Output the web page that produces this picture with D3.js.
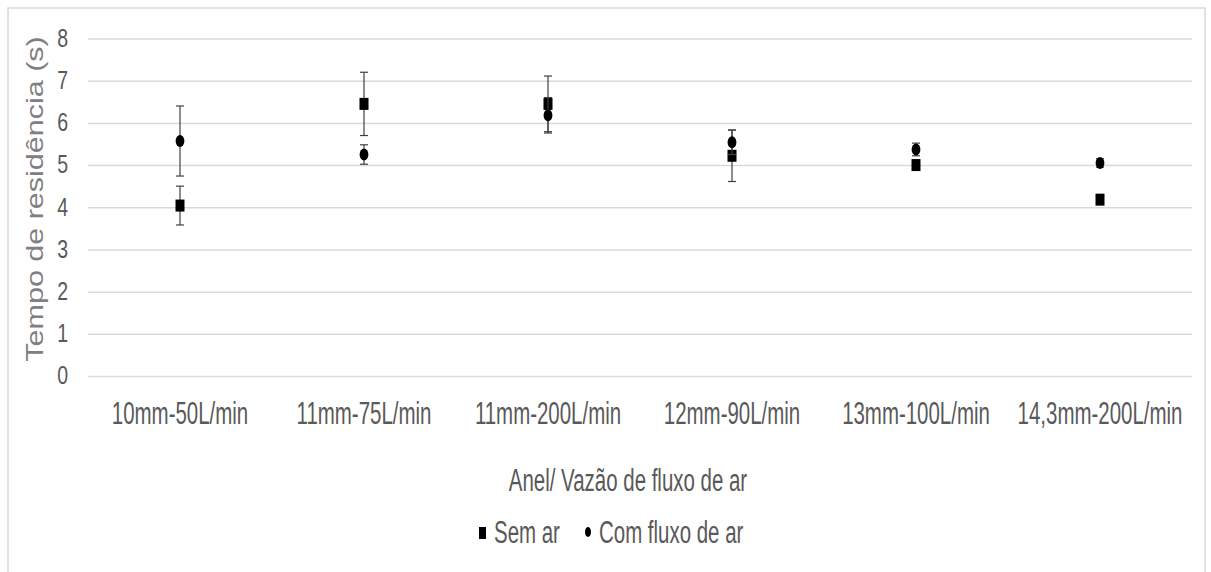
<!DOCTYPE html>
<html><head><meta charset="utf-8">
<script src="https://cdn.jsdelivr.net/npm/d3@7"></script>
<style>body{margin:0;background:#fff}svg{display:block}text{font-family:"Liberation Sans",Arial,sans-serif}</style>
</head><body><svg width="1211" height="572"></svg>
<script>
const categories = ["10mm-50L/min","11mm-75L/min","11mm-200L/min","12mm-90L/min","13mm-100L/min","14,3mm-200L/min"];
const semAr = [4.04, 6.45, 6.45, 5.22, 5.0, 4.18];
const semArErr = [0.46, 0.75, 0.66, 0.61, 0.05, 0.05];
const comFluxo = [5.57, 5.25, 6.18, 5.54, 5.37, 5.05];
const comFluxoErr = [0.83, 0.23, 0.42, 0.29, 0.15, 0.1];
const yTicks = [0,1,2,3,4,5,6,7,8];
const seriesNames = ["Sem ar","Com fluxo de ar"];
const xTitle = "Anel/ Vazão de fluxo de ar";
const yTitle = "Tempo de residência (s)";

const svg = d3.select("svg");
svg.append("rect").attr("width",1211).attr("height",572).attr("fill","#fff");
svg.append("rect").attr("x",8).attr("y",8).attr("width",1197).attr("height",600)
  .attr("fill","none").attr("stroke","#d9d9d9").attr("stroke-width",1.5);

const x = d3.scaleBand().domain(categories).range([88,1192]);
const y = d3.scaleLinear().domain([0,8]).range([376,38.5]);
const cx = c => x(c) + x.bandwidth()/2;

const grid = svg.append("g").attr("transform","translate(88,0)")
  .call(d3.axisLeft(y).tickValues(yTicks).tickSize(-1104).tickFormat(""));
grid.select(".domain").remove();
grid.selectAll("line").attr("stroke","#d9d9d9").attr("stroke-width",1.5);

function txt(g, s, tx, ty, sx, fs, anchor, fill){
  return g.append("text").text(s).attr("x",0).attr("y",0)
    .attr("transform",`translate(${tx},${ty}) scale(${sx},1)`)
    .attr("font-size",fs).attr("text-anchor",anchor).attr("fill",fill);
}

// y tick labels
yTicks.forEach(t => {
  txt(svg, t, 68, y(t), 0.78, 25, "end", "#595959").attr("dominant-baseline","central");
});
// category labels
categories.forEach(c => txt(svg, c, cx(c), 424, 0.66, 31, "middle", "#595959"));
// axis titles
txt(svg, xTitle, 628, 491, 0.66, 31, "middle", "#595959");
svg.append("text").text(yTitle).attr("x",0).attr("y",0)
  .attr("transform","translate(43,199) scale(0.78,1) rotate(-90)")
  .attr("font-size",30.5).attr("text-anchor","middle").attr("fill","#808080");

// error bars + markers
function errBars(vals, errs){
  const g = svg.append("g").attr("stroke","#404040").attr("stroke-width",1.2);
  categories.forEach((c,i) => {
    const X = cx(c), lo = y(vals[i]-errs[i]), hi = y(vals[i]+errs[i]);
    g.append("line").attr("x1",X).attr("x2",X).attr("y1",lo).attr("y2",hi);
    g.append("line").attr("x1",X-4).attr("x2",X+4).attr("y1",lo).attr("y2",lo);
    g.append("line").attr("x1",X-4).attr("x2",X+4).attr("y1",hi).attr("y2",hi);
  });
}
errBars(semAr, semArErr);
svg.append("g").selectAll("rect").data(semAr).join("rect")
  .attr("x",(d,i)=>cx(categories[i])-4.5).attr("y",d=>y(d)-6)
  .attr("width",9).attr("height",12).attr("fill","#000");
errBars(comFluxo, comFluxoErr);
svg.append("g").selectAll("ellipse").data(comFluxo).join("ellipse")
  .attr("cx",(d,i)=>cx(categories[i])).attr("cy",d=>y(d))
  .attr("rx",4.4).attr("ry",6).attr("fill","#000");

// legend
svg.append("rect").attr("x",479).attr("y",527).attr("width",7).attr("height",12).attr("fill","#000");
txt(svg, seriesNames[0], 494, 543, 0.66, 31, "start", "#595959");
svg.append("ellipse").attr("cx",588).attr("cy",532).attr("rx",3).attr("ry",5).attr("fill","#000");
txt(svg, seriesNames[1], 599, 543, 0.66, 31, "start", "#595959");
</script></body></html>
